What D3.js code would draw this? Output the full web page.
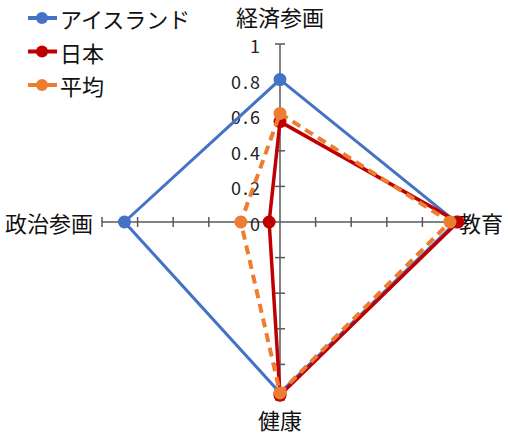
<!DOCTYPE html>
<html>
<head>
<meta charset="utf-8">
<script src="https://cdn.jsdelivr.net/npm/d3@7"></script>
<style>
  body { margin: 0; background: #fff; }
  svg { font-family: "Noto Sans CJK JP", "Noto Sans", sans-serif; }
</style>
</head>
<body>
<div id="chart"></div>
<script>
// axes, clockwise from top
var axes = ['経済参画', '教育', '健康', '政治参画'];
var ticks = [0, 0.2, 0.4, 0.6, 0.8, 1];
var iceland = [0.80, 0.99, 0.96, 0.874];
var japan = [0.564, 1.0, 0.973, 0.061];
var average = [0.61, 0.955, 0.96, 0.22];

var seriesNames = ['アイスランド', '日本', '平均'];

var W = 508, H = 434;
var cx = 280, cy = 222;

var svg = d3.select('#chart').append('svg')
  .attr('width', W)
  .attr('height', H);

var r = d3.scaleLinear().domain([0, 1]).range([0, 178]);
var angle = d3.scaleOrdinal().domain(axes).range([-Math.PI / 2, 0, Math.PI / 2, Math.PI]);

var g = svg.append('g').attr('transform', 'translate(' + cx + ',' + cy + ')');

function pt(name, v) {
  var a = angle(name);
  return [r(v) * Math.cos(a), r(v) * Math.sin(a)];
}

// axis lines + tick marks
var axisColor = '#595959';
axes.forEach(function (name) {
  var end = pt(name, 1);
  g.append('line')
    .attr('x1', 0).attr('y1', 0)
    .attr('x2', end[0]).attr('y2', end[1])
    .style('stroke', axisColor).style('stroke-width', 1.5);
  var a = angle(name);
  var px = -Math.sin(a), py = Math.cos(a);
  ticks.slice(1).forEach(function (t) {
    var p = pt(name, t);
    g.append('line')
      .attr('x1', p[0] - px * 5).attr('y1', p[1] - py * 5)
      .attr('x2', p[0] + px * 5).attr('y2', p[1] + py * 5)
      .style('stroke', axisColor).style('stroke-width', 1.5);
  });
});

// tick labels on the top axis
g.selectAll('text.tick').data(ticks).enter().append('text')
  .attr('class', 'tick')
  .attr('x', -18)
  .attr('y', function (d) { return -r(d) + 1; })
  .attr('text-anchor', 'end')
  .attr('dominant-baseline', 'central')
  .style('font-size', '18px')
  .style('letter-spacing', '2px')
  .style('fill', '#222')
  .text(function (d) { return d3.format('.1~f')(d); });

// axis titles
var titlePos = {
  '経済参画': {x: 0, y: -206, anchor: 'middle'},
  '教育': {x: 179, y: 0, anchor: 'start'},
  '健康': {x: 0, y: 197, anchor: 'middle'},
  '政治参画': {x: -187, y: 0, anchor: 'end'}
};
axes.forEach(function (name) {
  var tp = titlePos[name];
  g.append('text')
    .attr('x', tp.x).attr('y', tp.y)
    .attr('text-anchor', tp.anchor)
    .attr('dominant-baseline', 'central')
    .style('font-size', '22px')
    .style('fill', '#111')
    .text(name);
});

var series = [
  {name: seriesNames[0], values: iceland, color: '#4472C4', width: 3, dash: null},
  {name: seriesNames[1], values: japan, color: '#C00000', width: 3.5, dash: null},
  {name: seriesNames[2], values: average, color: '#ED7D31', width: 4, dash: '9,6'}
];

var line = d3.line().curve(d3.curveLinearClosed);

series.forEach(function (s) {
  var pts = axes.map(function (name, i) { return pt(name, s.values[i]); });
  g.append('path')
    .attr('d', line(pts))
    .style('fill', 'none')
    .style('stroke', s.color)
    .style('stroke-width', s.width)
    .style('stroke-dasharray', s.dash);
  g.selectAll(null).data(pts).enter().append('circle')
    .attr('cx', function (d) { return d[0]; })
    .attr('cy', function (d) { return d[1]; })
    .attr('r', 6.5)
    .style('fill', s.color);
});

// legend
var legend = svg.append('g').attr('transform', 'translate(28,18)');
series.forEach(function (s, i) {
  var lg = legend.append('g').attr('transform', 'translate(0,' + (i * 33.5) + ')');
  lg.append('line')
    .attr('x1', 0).attr('x2', 29)
    .style('stroke', s.color).style('stroke-width', 4);
  lg.append('circle').attr('cx', 14).attr('r', 6).style('fill', s.color);
  lg.append('text')
    .attr('x', 32)
    .attr('dominant-baseline', 'central')
    .style('font-size', '22px')
    .style('fill', '#111')
    .text(s.name);
});
</script>
</body>
</html>
